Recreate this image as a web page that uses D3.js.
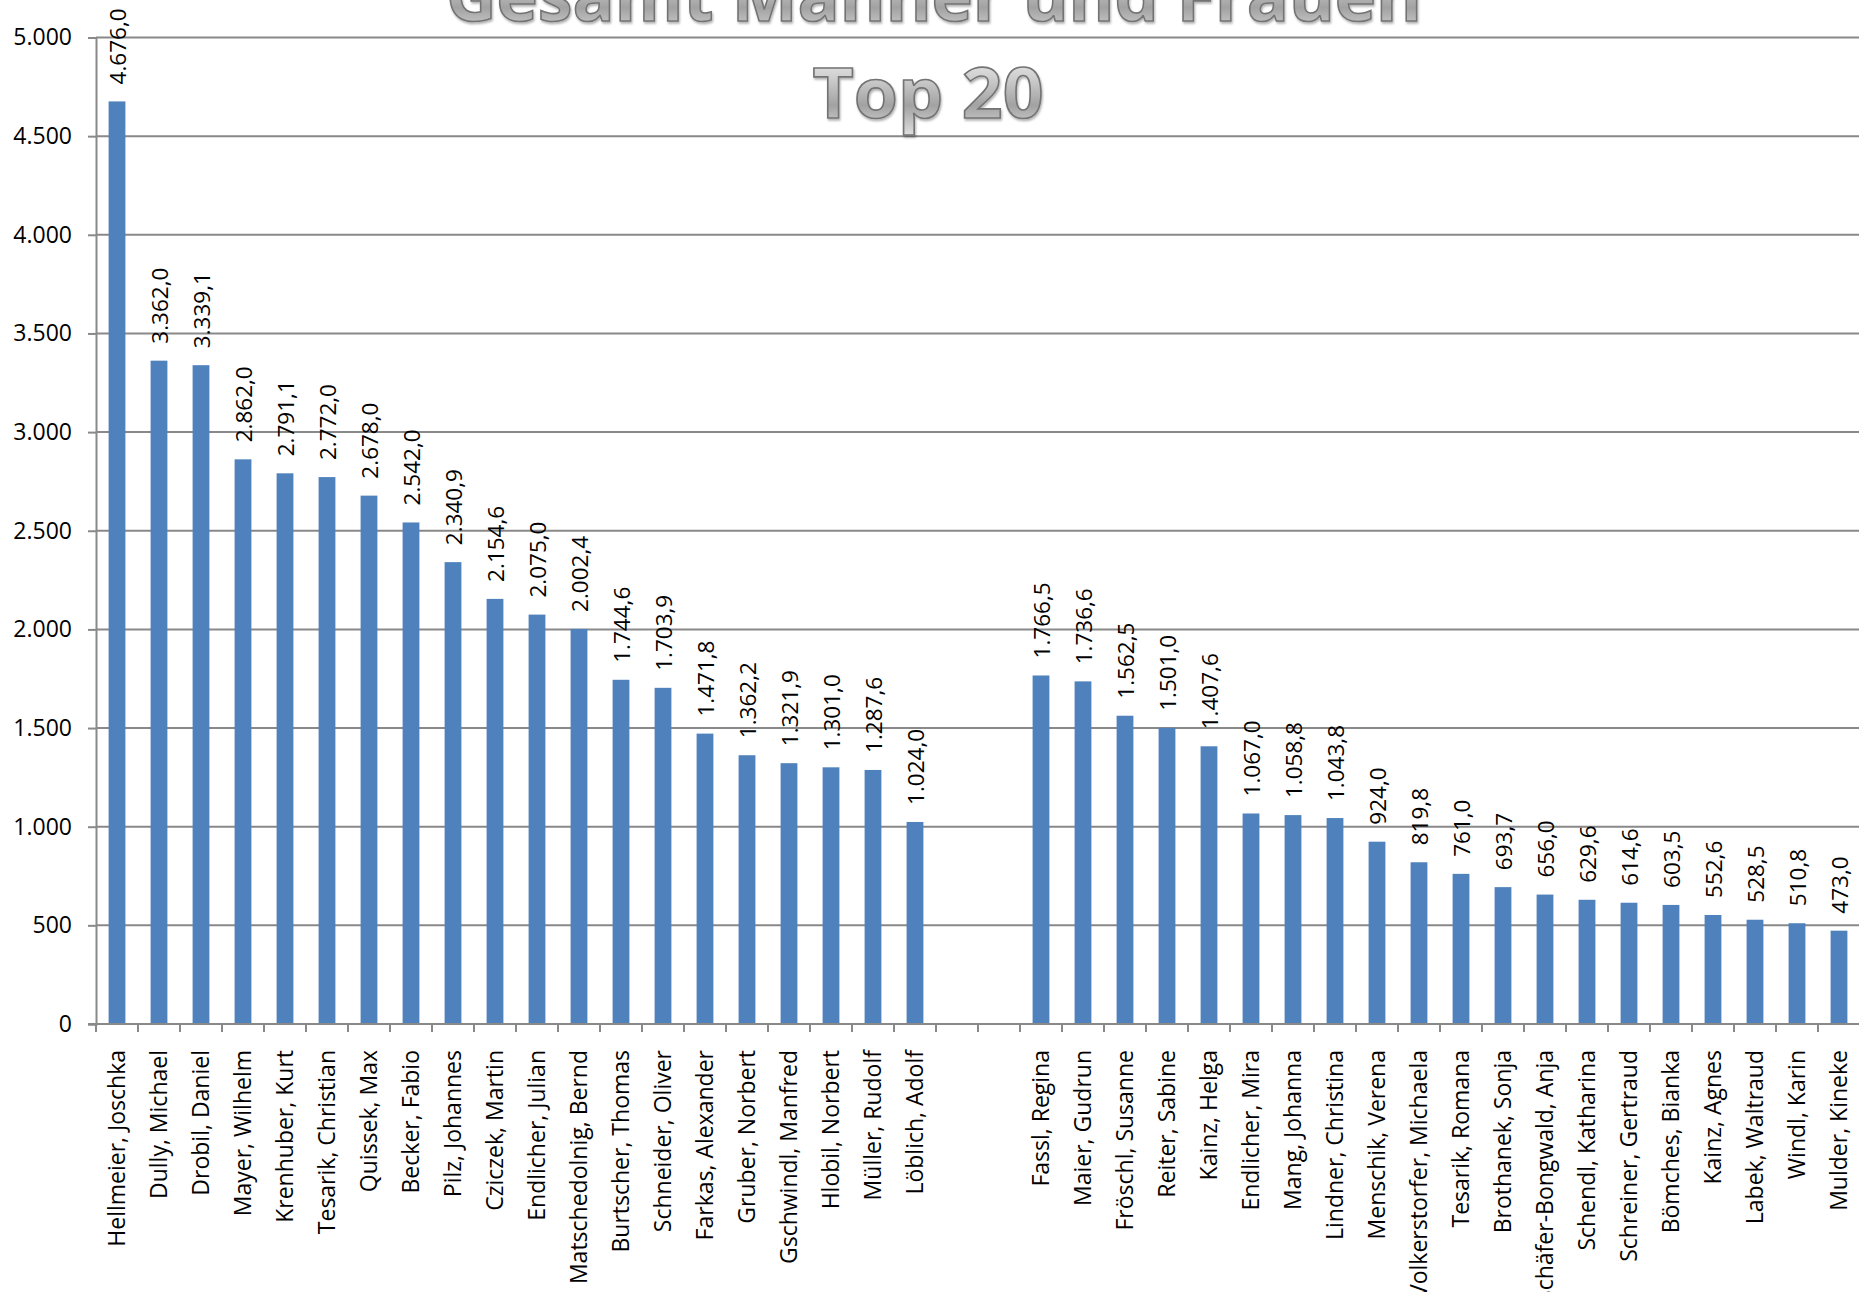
<!DOCTYPE html>
<html>
<head>
<meta charset="utf-8">
<script src="https://cdn.jsdelivr.net/npm/d3@7"></script>
<style>
  html, body { margin: 0; padding: 0; background: #ffffff; overflow: hidden; }
  svg { display: block; }
</style>
</head>
<body>
<svg id="chart" width="1859" height="1292"></svg>
<script>
// ---- data ----
const menNames = ["Hellmeier, Joschka","Dully, Michael","Drobil, Daniel","Mayer, Wilhelm","Krenhuber, Kurt","Tesarik, Christian","Quissek, Max","Becker, Fabio","Pilz, Johannes","Cziczek, Martin","Endlicher, Julian","Matschedolnig, Bernd","Burtscher, Thomas","Schneider, Oliver","Farkas, Alexander","Gruber, Norbert","Gschwindl, Manfred","Hlobil, Norbert","Müller, Rudolf","Löblich, Adolf"];
const menValues = [4676.0,3362.0,3339.1,2862.0,2791.1,2772.0,2678.0,2542.0,2340.9,2154.6,2075.0,2002.4,1744.6,1703.9,1471.8,1362.2,1321.9,1301.0,1287.6,1024.0];
const gapSlots = ["__gap1","__gap2"];
const womenNames = ["Fassl, Regina","Maier, Gudrun","Fröschl, Susanne","Reiter, Sabine","Kainz, Helga","Endlicher, Mira","Mang, Johanna","Lindner, Christina","Menschik, Verena","Volkerstorfer, Michaela","Tesarik, Romana","Brothanek, Sonja","Schäfer-Bongwald, Anja","Schendl, Katharina","Schreiner, Gertraud","Bömches, Bianka","Kainz, Agnes","Labek, Waltraud","Windl, Karin","Mulder, Kineke"];
const womenValues = [1766.5,1736.6,1562.5,1501.0,1407.6,1067.0,1058.8,1043.8,924.0,819.8,761.0,693.7,656.0,629.6,614.6,603.5,552.6,528.5,510.8,473.0];
const yTicks = [0,500,1000,1500,2000,2500,3000,3500,4000,4500,5000];
const titleLines = ["Gesamt Männer und Frauen","Top 20"];

// ---- build ----
const categories = [...menNames, ...gapSlots, ...womenNames];
const points = [
  ...menNames.map((n,i)=>({name:n, value:menValues[i]})),
  ...womenNames.map((n,i)=>({name:n, value:womenValues[i]}))
];

const locale = d3.formatLocale({decimal: ",", thousands: ".", grouping: [3], currency: ["", " €"]});
const fmtVal = locale.format(",.1f");
const fmtTick = locale.format(",.0f");

const svg = d3.select("#chart");
const plotLeft = 96, plotRight = 1860, plotTop = 37.5, plotBottom = 1024;

const x = d3.scaleBand().domain(categories).range([plotLeft, plotRight]).paddingInner(0.6).paddingOuter(0.3);
const xb = d3.scaleBand().domain(categories).range([plotLeft, plotRight]).padding(0);
const y = d3.scaleLinear().domain([0, 5000]).range([plotBottom, plotTop]);

const grid = "#898989";
const font = "'Open Sans', 'Liberation Sans', sans-serif";

// defs for title
const defs = svg.append("defs");
const grad = defs.append("linearGradient").attr("id","tgrad").attr("x1",0).attr("y1",0).attr("x2",0).attr("y2",1);
grad.append("stop").attr("offset","0%").attr("stop-color","#fafafa");
grad.append("stop").attr("offset","35%").attr("stop-color","#d0d0d0");
grad.append("stop").attr("offset","65%").attr("stop-color","#a2a2a2");
grad.append("stop").attr("offset","100%").attr("stop-color","#e6e6e6");
const filt = defs.append("filter").attr("id","tshadow").attr("x","-10%").attr("y","-10%").attr("width","120%").attr("height","130%");
filt.append("feDropShadow").attr("dx",1).attr("dy",2).attr("stdDeviation",1.2).attr("flood-color","#000").attr("flood-opacity",0.3);

// gridlines
svg.append("g").selectAll("line").data(yTicks.filter(d=>d>0)).join("line")
  .attr("x1", plotLeft).attr("x2", 1859)
  .attr("y1", d=>y(d)).attr("y2", d=>y(d))
  .attr("stroke", grid).attr("stroke-width", 2);

// y axis
const yAxis = d3.axisLeft(y).tickValues(yTicks).tickFormat(fmtTick).tickSize(8).tickPadding(16);
const yg = svg.append("g").attr("transform", `translate(${plotLeft},0)`).call(yAxis);
yg.select(".domain").attr("stroke", grid).attr("stroke-width", 2);
yg.selectAll(".tick line").attr("stroke", grid).attr("stroke-width", 2);
yg.selectAll(".tick text").attr("font-family", font).attr("font-size", 23).attr("fill", "#000");

// bars
svg.append("g").selectAll("rect").data(points).join("rect")
  .attr("x", d=>x(d.name))
  .attr("width", x.bandwidth())
  .attr("y", d=>y(d.value))
  .attr("height", d=>y(0)-y(d.value))
  .attr("fill", "#4f81bd");

// x axis line + ticks at band boundaries
const boundaries = categories.map(c=>xb(c)).concat([plotRight]);
svg.append("line").attr("x1", plotLeft-8).attr("x2", 1859).attr("y1", y(0)).attr("y2", y(0))
  .attr("stroke", grid).attr("stroke-width", 2);
svg.append("g").selectAll("line").data(boundaries).join("line")
  .attr("x1", d=>d).attr("x2", d=>d).attr("y1", y(0)).attr("y2", y(0)+8)
  .attr("stroke", grid).attr("stroke-width", 2);

// category labels
svg.append("g").selectAll("text").data(points).join("text")
  .attr("transform", d=>`translate(${x(d.name)+x.bandwidth()/2},${y(0)+26}) rotate(-90)`)
  .attr("text-anchor","end")
  .attr("dy","0.36em")
  .attr("font-family", font).attr("font-size", 23).attr("fill","#000")
  .text(d=>d.name);

// value labels
svg.append("g").selectAll("text").data(points).join("text")
  .attr("transform", d=>`translate(${x(d.name)+x.bandwidth()/2},${y(d.value)-17}) rotate(-90)`)
  .attr("text-anchor","start")
  .attr("dy","0.38em")
  .attr("font-family", font).attr("font-size", 22.5).attr("fill","#000")
  .text(d=>fmtVal(d.value));

// title
const tg = svg.append("g").attr("filter","url(#tshadow)");
tg.append("text").attr("x", 934).attr("y", 21).attr("text-anchor","middle")
  .attr("font-family", font).attr("font-weight", 700).attr("font-size", 72)
  .attr("textLength", 976).attr("lengthAdjust","spacingAndGlyphs")
  .attr("fill","url(#tgrad)").attr("stroke","#737373").attr("stroke-width",1.6)
  .text(titleLines[0]);
tg.append("text").attr("x", 928).attr("y", 118).attr("text-anchor","middle")
  .attr("font-family", font).attr("font-weight", 700).attr("font-size", 70)
  .attr("textLength", 231).attr("lengthAdjust","spacingAndGlyphs")
  .attr("fill","url(#tgrad)").attr("stroke","#737373").attr("stroke-width",1.6)
  .text(titleLines[1]);
</script>
</body>
</html>
